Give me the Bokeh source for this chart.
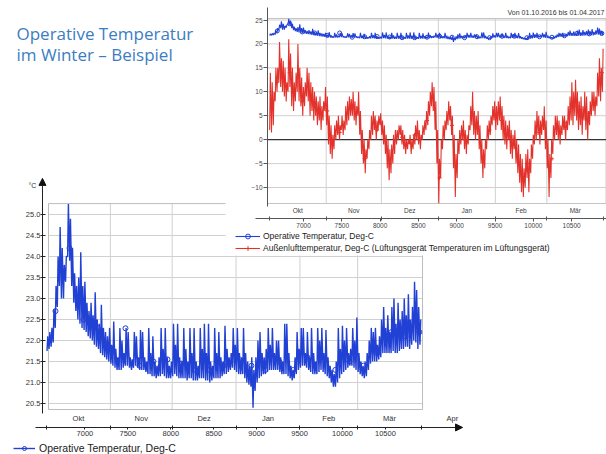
from bokeh.plotting import figure
from bokeh.models import (Range1d, LinearAxis, FixedTicker, NumeralTickFormatter,
                          Legend, LegendItem, Arrow, NormalHead)
from bokeh.core.properties import value
from bokeh.embed import file_html
from bokeh.resources import INLINE

W, H = 606, 454

# ---------------- data ----------------
start_hour = 6552                      # 01.10. 00:00 as hour of the year
month_starts = [6552, 7296, 8016, 8760, 9504, 10176, 10920]
month_mid = [6924, 7656, 8388, 9132, 9840, 10548, 11280]
month_names = ["Okt", "Nov", "Dez", "Jan", "Feb", "Mär", "Apr"]
hour_ticks = [7000, 7500, 8000, 8500, 9000, 9500, 10000, 10500]
top_y_ticks = [-10, -5, 0, 5, 10, 15, 20, 25]
bottom_y_ticks = [20.5, 21.0, 21.5, 22.0, 22.5, 23.0, 23.5, 24.0, 24.5, 25.0]

title_lines = ["Operative Temperatur", "im Winter \u2013 Beispiel"]
period_text = "Von 01.10.2016 bis 01.04.2017"
unit_text = "\u00b0C"
label_op = "Operative Temperatur, Deg-C"
label_out = "Au\u00dfenlufttemperatur, Deg-C (L\u00fcftungsger\u00e4t Temperaturen im L\u00fcftungsger\u00e4t)"

# operative temperature, daily minimum / maximum (deg C)
op_min = [21.75, 21.8, 21.85, 21.95, 22.3, 22.8, 23.3, 23.0, 23.0, 23.4,
          24.0, 23.9, 23.3, 22.9, 22.7, 22.5, 22.4, 22.3, 22.25, 22.2,
          22.1, 22.05, 22.0, 21.9, 21.85, 21.8, 21.7, 21.65, 21.6, 21.55,
          21.5, 21.45, 21.4, 21.35, 21.3, 21.3, 21.3, 21.35, 21.4, 21.4,
          21.35, 21.3, 21.35, 21.4, 21.35, 21.3, 21.3, 21.3, 21.25, 21.2,
          21.2, 21.15, 21.15, 21.1, 21.15, 21.15, 21.2, 21.15, 21.1, 21.1,
          21.1, 21.15, 21.2, 21.15, 21.1, 21.1, 21.1, 21.1, 21.05, 21.1,
          21.1, 21.05, 21.05, 21.05, 21.1, 21.1, 21.1, 21.05, 21.05, 21.0,
          21.05, 21.1, 21.1, 21.1, 21.1, 21.15, 21.2, 21.2, 21.25, 21.3,
          21.35, 21.3, 21.25, 21.2, 21.2, 21.2, 21.1, 21.0, 20.95, 20.9,
          20.4, 20.8, 21.0, 21.1, 21.15, 21.2, 21.2, 21.25, 21.3, 21.3,
          21.3, 21.3, 21.3, 21.25, 21.2, 21.2, 21.2, 21.15, 21.1, 21.05,
          21.1, 21.2, 21.3, 21.35, 21.4, 21.4, 21.35, 21.3, 21.25, 21.2,
          21.2, 21.2, 21.25, 21.3, 21.25, 21.2, 21.15, 21.1, 21.0, 20.9,
          20.9, 21.0, 21.1, 21.2, 21.25, 21.3, 21.35, 21.4, 21.4, 21.35,
          21.3, 21.25, 21.2, 21.15, 21.1, 21.15, 21.3, 21.45, 21.5, 21.5,
          21.5, 21.55, 21.6, 21.7, 21.7, 21.7, 21.7, 21.7, 21.75, 21.7,
          21.7, 21.75, 21.8, 21.8, 21.85, 21.85, 21.8, 21.9, 22.0, 21.95, 21.8, 21.9]
op_max = [22.1, 22.2, 22.3, 22.75, 23.3, 24.0, 24.7, 24.2, 23.8, 24.0,
          25.25, 24.9, 24.2, 23.6, 23.3, 23.5, 24.1, 23.3, 23.4, 22.9,
          22.7, 22.9, 22.6, 23.15, 22.5, 22.4, 22.85, 22.3, 22.2, 22.1,
          22.3, 21.9, 22.45, 21.8, 21.6, 22.3, 22.0, 21.7, 22.3, 22.2,
          21.6, 21.55, 22.2, 22.1, 21.6, 22.25, 22.2, 21.6, 21.5, 22.3,
          21.7, 22.1, 21.5, 21.4, 21.6, 22.3, 21.8, 22.3, 21.6, 21.4,
          21.5, 22.4, 21.9, 22.4, 21.6, 21.5, 22.3, 21.8, 21.5, 22.3,
          21.7, 22.3, 21.5, 21.4, 22.3, 21.8, 22.4, 21.7, 22.4, 21.5,
          21.4, 22.3, 21.7, 22.2, 21.6, 21.5, 22.35, 21.8, 21.6, 21.7,
          22.3, 21.9, 22.3, 21.7, 21.6, 22.3, 21.7, 21.5, 21.4, 21.6,
          21.3, 21.6, 22.0, 22.2, 21.7, 21.6, 21.8, 22.3, 21.9, 22.3,
          21.7, 22.0, 22.0, 21.6, 21.5, 22.4, 22.4, 21.7, 21.4, 21.3,
          21.6, 22.2, 21.8, 22.3, 22.3, 21.7, 22.2, 21.6, 22.3, 21.7,
          21.5, 22.3, 22.0, 22.3, 21.7, 22.25, 21.6, 21.4, 21.3, 21.2,
          21.5, 22.3, 21.8, 22.35, 22.0, 22.3, 21.7, 21.8, 22.3, 22.0,
          22.55, 21.7, 21.5, 21.4, 21.5, 21.7, 22.0, 22.3, 22.2, 22.3,
          21.9, 22.1, 22.5, 22.8, 22.3, 22.6, 22.2, 22.8, 23.0, 22.4,
          22.9, 22.5, 22.7, 23.0, 22.6, 23.1, 22.5, 22.8, 23.4, 23.2, 22.8, 22.5]

# outdoor air temperature, daily minimum / maximum (deg C)
out_min = [2, 1.5, 3, 8, 10, 12, 11, 10, 9, 8,
           10, 11, 7, 6, 8, 10, 8, 7, 5, 7,
           9, 8, 5, 6, 4, 5, 3, 4, 2, 4,
           6, 3, -1, -3, -4, -2, 0, 1, 0, 2,
           1, 2, 3, 4, 5, 5, 4, 3, 5, 1,
           -3, -5, -7, -4, -2, 0, 1, 2, 0, 2,
           3, 1, -1, -3, -6, -8.5, -7, -5, -3, -1,
           0, 1, -1, -2, -3, -2, -1, -3, -2, -1,
           0, -1, -2, 0, 1, 2, 3, 5, 7, 6,
           2, -5, -13.3, -8, -2, 0, 2, 3, 4, 1,
           -6, -12, -8, -3, -1, 0, -2, -3, -1, 2,
           3, 1, 0, 1, -2, -5, -8, -6, -2, 0,
           1, 3, 4, 2, 3, 4, 2, 0, -1, -2,
           0, -3, -4, -2, -5, -7, -9, -11, -12, -10,
           -8, -11, -7, -4, -1, 0, 1, -1, 1, 2,
           -2, -6, -12, -8, -3, 0, 1, 0, -1, 1,
           2, 0, 2, 3, 4, 3, 5, 4, 2, 3,
           1, 4, 2, 0, 3, 5, 6, 5, 7, 9, 8, 10]
out_max = [14, 12, 10, 15, 15, 20.4, 17, 16.5, 15, 12,
           21, 18, 15, 12, 14, 20, 15, 13, 11, 12,
           15, 14, 12, 11, 10, 9, 8, 9, 7, 8,
           11, 9, 5, 3, 1, 3, 4, 5, 3, 5,
           4, 7, 8, 9, 8.5, 10, 8, 7, 10, 6,
           2, 0, -2, 0, 2, 5, 6, 5, 4, 5,
           5.5, 4, 3, 1, 0, -2, -1, 1, 2, 2,
           3, 3, 2, 1, 0, 0, 1, 0, 1, 3,
           4, 2, 1, 3, 4, 6, 8, 10, 12, 11,
           8, 2, -4, 0, 3, 4, 6, 8, 7, 5,
           1, -3, 0, 2, 3, 4, 2, 1, 3, 7,
           10, 6, 5, 6, 3, 0, -2, 0, 3, 4,
           5, 7, 8, 7, 8, 9, 7, 5, 4, 3,
           4, 2, 1, 2, 0, -1, -3, -4, -6, -3,
           -2, -4, -1, 1, 4, 6, 5, 4, 5, 7,
           4, 0, -3, 0, 3, 5, 5, 4, 3, 5,
           5, 4, 7, 9, 12, 10, 12.5, 10, 8, 9,
           7, 10, 9, 6, 8, 10, 10, 9, 14, 17, 15, 19]

# series markers (hour of year and the value at that hour)
marker_hours = [6657, 6820, 6983, 7146, 7309, 7472, 7635, 7798, 7961,
                8124, 8287, 8450, 8613, 8776, 8939, 9102, 9265, 9428,
                9591, 9754, 9917, 10080, 10243, 10406, 10569, 10732, 10895]
marker_op = [22.7, 24.2, 22.5, 22.3, 21.8, 22.29, 21.4, 21.5, 21.55,
             21.45, 21.3, 21.3, 21.4, 21.6, 21.4, 21.3, 21.5, 21.3,
             21.6, 21.6, 21.3, 21.5, 21.4, 21.7, 22.2, 22.1, 22.2]
marker_out = [12, 14, 8, 7, 6, 1.5, 7, -4, 2,
              -5, 0.5, 1, 4, -8, 3, 0, 3, 2,
              4, 0, -5, 1.5, -4, 3.5, 7, 5.5, 14]


def daily_series(lows, highs):
    xs, ys = [], []
    for d, (lo, hi) in enumerate(zip(lows, highs)):
        xs += [start_hour + 24 * d + 6, start_hour + 24 * d + 15]
        ys += [lo, hi]
    return xs, ys


op_x, op_y = daily_series(op_min, op_max)
out_x, out_y = daily_series(out_min, out_max)

BLUE = "#2140d4"
RED = "#e2322b"
GRID = "#d0d0d0"
FONT = "Liberation Sans"


# ---------------- layout helpers ----------------
def lin_range(v0, c0, v1, c1, size, vertical=False):
    k = (v1 - v0) / (c1 - c0)
    at0 = v0 - k * c0
    at_n = v0 + k * (size - c0)
    return Range1d(at_n, at0) if vertical else Range1d(at0, at_n)


p = figure(width=W, height=H, x_range=Range1d(0, W), y_range=Range1d(H, 0),
           output_backend="svg", toolbar_location=None, min_border=0,
           x_axis_location=None, y_axis_location=None,
           outline_line_color=None, background_fill_color="white",
           border_fill_color="white")
p.xgrid.visible = False
p.ygrid.visible = False

p.extra_x_ranges = {"tx": lin_range(6552, 268.7, 10920, 603.3, W),
                    "bx": lin_range(6552, 46.0, 10920, 421.0, W)}
p.extra_y_ranges = {"ty": lin_range(25, 19.5, -10, 187.0, H, True),
                    "by": lin_range(25, 214.0, 20.5, 403.0, H, True)}

B = dict(x_range_name="bx", y_range_name="by")
T = dict(x_range_name="tx", y_range_name="ty")

# ---------------- bottom chart ----------------
bx0, bx1, by0, by1 = 6575, 10932, 20.357, 25.26
p.segment(x0=bx0, x1=bx1, y0=bottom_y_ticks, y1=bottom_y_ticks,
          line_color=GRID, line_width=1, level="underlay", **B)
p.segment(x0=month_starts[1:6], x1=month_starts[1:6], y0=by0, y1=by1,
          line_color=GRID, line_width=1, level="underlay", **B)
p.quad(left=bx0, right=bx1, bottom=by0, top=by1, fill_alpha=0,
       line_color="#bcbcbc", line_width=1, level="underlay", **B)
r_bm = p.scatter(marker_hours, marker_op, marker="circle", size=5, fill_color=None,
                 line_color=BLUE, line_width=1, level="underlay", **B)
r_b = p.line(op_x, op_y, line_color=BLUE, line_width=1.4, level="underlay", **B)

ax_by = LinearAxis(fixed_location=6505, bounds=(20.26, 25.6),
                   ticker=FixedTicker(ticks=bottom_y_ticks, minor_ticks=[]),
                   formatter=NumeralTickFormatter(format="0.0"), **B)
ax_bx = LinearAxis(fixed_location=19.93, bounds=(6424, 11320),
                   ticker=FixedTicker(ticks=hour_ticks, minor_ticks=[]), **B)
ax_bm = LinearAxis(fixed_location=19.93, bounds=(6424, 11320),
                   ticker=FixedTicker(ticks=month_mid, minor_ticks=month_starts),
                   major_label_overrides=dict(zip(month_mid, month_names)), **B)
for ax in (ax_by, ax_bx, ax_bm):
    ax.major_label_text_font = FONT
    ax.major_label_text_font_size = "7.5px"
    ax.major_label_text_color = "#333333"
    ax.axis_line_color = "#222222"
    ax.major_tick_line_color = "#222222"
    ax.minor_tick_line_color = "#222222"
ax_by.major_tick_in, ax_by.major_tick_out, ax_by.major_label_standoff = 3, 2, 0
ax_bx.major_tick_in, ax_bx.major_tick_out, ax_bx.major_label_standoff = 0, 2, 2
ax_bm.major_tick_in, ax_bm.major_tick_out, ax_bm.major_label_standoff = 0, 0, 2
ax_bm.minor_tick_in, ax_bm.minor_tick_out = 2, 2
ax_bm.axis_line_color = None
p.add_layout(ax_by, "left")
p.add_layout(ax_bx, "below")
p.add_layout(ax_bm, "above")
p.add_layout(Arrow(end=NormalHead(size=7, fill_color="#111111", line_color="#111111"),
                   x_start=6505, y_start=25.55, x_end=6505, y_end=25.86,
                   line_color="#222222", line_width=1, **B))
p.add_layout(Arrow(end=NormalHead(size=7, fill_color="#111111", line_color="#111111"),
                   x_start=11300, y_start=19.93, x_end=11398, y_end=19.93,
                   line_color="#222222", line_width=1, **B))
p.text(x=[28], y=[185], text=[unit_text], text_font=value(FONT),
       text_font_size="7px", text_color="#333333", text_baseline="middle")

# ---------------- cover of the upper picture ----------------
p.quad(left=225, right=W, top=0, bottom=255, fill_color="white",
       line_color=None, level="underlay")

# ---------------- top chart ----------------
tx0, tx1, ty0, ty1 = 6530, 10950, -13.34, 25.31
p.segment(x0=tx0, x1=tx1, y0=[v for v in top_y_ticks if v != 0],
          y1=[v for v in top_y_ticks if v != 0], line_color=GRID, line_width=1, **T)
p.segment(x0=month_starts[1:6], x1=month_starts[1:6], y0=ty0, y1=ty1,
          line_color=GRID, line_width=1, **T)
p.quad(left=tx0, right=tx1, bottom=ty0, top=ty1, fill_alpha=0,
       line_color="#c4c4c4", line_width=1, **T)
p.segment(x0=tx0, x1=tx1, y0=0, y1=0, line_color="#333333", line_width=1.3, **T)
r_trm = p.scatter(marker_hours, marker_out, marker="cross", size=4, line_color=RED, **T)
r_tr = p.line(out_x, out_y, line_color=RED, line_width=1.1, **T)
r_tbm = p.scatter(marker_hours, marker_op, marker="circle", size=4, fill_color=None,
                  line_color=BLUE, **T)
r_tb = p.line(op_x, op_y, line_color=BLUE, line_width=1.1, **T)

ax_ty = LinearAxis(fixed_location=6530, bounds=(-14.0, 27.6),
                   ticker=FixedTicker(ticks=top_y_ticks, minor_ticks=[]), **T)
ax_tx = LinearAxis(fixed_location=-16.47, bounds=(6373, 10960),
                   ticker=FixedTicker(ticks=hour_ticks, minor_ticks=[]), **T)
ax_tm = LinearAxis(fixed_location=-16.47, bounds=(6373, 10960),
                   ticker=FixedTicker(ticks=month_mid[:6], minor_ticks=month_starts),
                   major_label_overrides=dict(zip(month_mid[:6], month_names[:6])), **T)
for ax in (ax_ty, ax_tx, ax_tm):
    ax.major_label_text_font = FONT
    ax.major_label_text_font_size = "6.5px"
    ax.major_label_text_color = "#444444"
    ax.axis_line_color = "#555555"
    ax.major_tick_line_color = "#555555"
    ax.minor_tick_line_color = "#555555"
ax_ty.major_tick_in, ax_ty.major_tick_out, ax_ty.major_label_standoff = 0, 4, 1
ax_tx.major_tick_in, ax_tx.major_tick_out, ax_tx.major_label_standoff = 0, 3, 2
ax_tm.major_tick_in, ax_tm.major_tick_out, ax_tm.major_label_standoff = 0, 0, 2
ax_tm.minor_tick_in, ax_tm.minor_tick_out = 2, 2
ax_tm.axis_line_color = None
p.add_layout(ax_ty, "left")
p.add_layout(ax_tx, "below")
p.add_layout(ax_tm, "above")

p.text(x=[604], y=[12], text=[period_text], text_font=value(FONT),
       text_font_size="7px", text_color="#333333", text_align="right",
       text_baseline="middle")

# ---------------- titles ----------------
p.text(x=[16, 16], y=[33, 54], text=title_lines, text_font=value("Open Sans"),
       text_font_size="17px", text_color="#3b7dc2", text_baseline="alphabetic")

# ---------------- legends ----------------
leg_top = Legend(items=[LegendItem(label=label_op, renderers=[r_tb, r_tbm]),
                        LegendItem(label=label_out, renderers=[r_tr, r_trm])],
                 location=(235, H - 254))
leg_bot = Legend(items=[LegendItem(label=label_op, renderers=[r_b, r_bm])],
                 location=(13, 0))
for lg, fs, gh in ((leg_top, "8.5px", 12), (leg_bot, "10.5px", 10)):
    lg.label_text_font = FONT
    lg.label_text_font_size = fs
    lg.label_text_color = "#222222"
    lg.glyph_width = 25 if lg is leg_top else 22
    lg.glyph_height = gh
    lg.label_height = gh
    lg.spacing = 0
    lg.padding = 0
    lg.margin = 0
    lg.label_standoff = 3 if lg is leg_top else 4
    lg.border_line_alpha = 0
    lg.background_fill_alpha = 0
p.add_layout(leg_top)
p.add_layout(leg_bot)

open("out.html", "w").write(file_html(p, INLINE))
